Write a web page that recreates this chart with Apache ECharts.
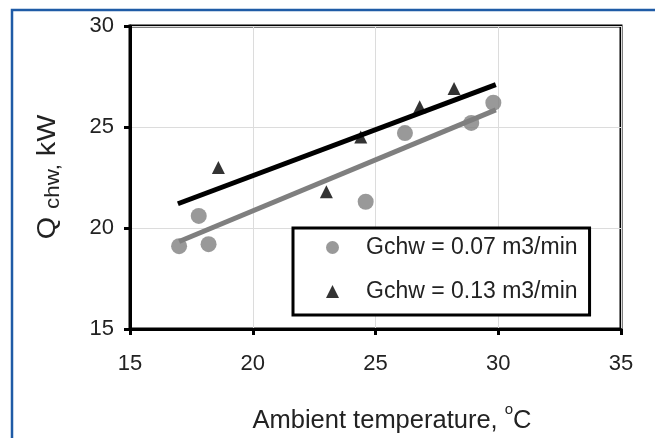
<!DOCTYPE html>
<html>
<head>
<meta charset="utf-8">
<script src="https://cdn.jsdelivr.net/npm/echarts@6/dist/echarts.min.js"></script>
<style>
html,body{margin:0;padding:0;background:#fff;}
#chart{width:655px;height:438px;}
</style>
</head>
<body>
<div id="chart"></div>
<script>
// Data
var xTicks = [15, 20, 25, 30, 35];
var yTicks = [15, 20, 25, 30];
var seriesNames = ['Gchw = 0.07 m3/min', 'Gchw = 0.13 m3/min'];
var lowFlow = [[17.0, 19.1], [17.8, 20.6], [18.2, 19.2], [24.6, 21.3], [26.2, 24.7], [28.9, 25.2], [29.8, 26.2]];
var highFlow = [[18.6, 23.0], [23.0, 21.8], [24.4, 24.5], [26.8, 26.0], [28.2, 26.9]];
var lowFlowTrend = [[17.0, 19.33], [29.9, 25.85]];
var highFlowTrend = [[16.95, 21.2], [29.9, 27.1]];

var FONT = '"Liberation Sans", Arial, sans-serif';
var chart = echarts.init(document.getElementById('chart'), null, {renderer: 'canvas'});
chart.setOption({
  animation: false,
  backgroundColor: '#fff',
  textStyle: {fontFamily: FONT},
  grid: {left: 130, right: 34, top: 26, bottom: 109, show: true, borderColor: '#000', borderWidth: 3},
  xAxis: {
    type: 'value', min: xTicks[0], max: xTicks[xTicks.length - 1], interval: 5,
    axisLine: {lineStyle: {color: '#000', width: 3}},
    axisTick: {show: true, length: 6, lineStyle: {color: '#000', width: 3}},
    axisLabel: {color: '#222', fontSize: 22, margin: 24, fontFamily: FONT},
    splitLine: {show: true, lineStyle: {color: '#dcdcdc', width: 1}}
  },
  yAxis: {
    type: 'value', min: yTicks[0], max: yTicks[yTicks.length - 1], interval: 5,
    axisLine: {lineStyle: {color: '#000', width: 3}},
    axisTick: {show: true, length: 6, lineStyle: {color: '#000', width: 3}},
    axisLabel: {color: '#222', fontSize: 22, margin: 16, fontFamily: FONT},
    splitLine: {show: true, lineStyle: {color: '#dcdcdc', width: 1}}
  },
  legend: {
    data: seriesNames,
    orient: 'vertical', left: 293, top: 228,
    padding: [8, 12, 12, 33],
    itemWidth: 13, itemHeight: 13, itemGap: 21,
    symbolKeepAspect: true,
    backgroundColor: '#fff', borderColor: '#000', borderWidth: 3,
    textStyle: {fontSize: 23, color: '#222', fontFamily: FONT, padding: [0, 0, 0, 22]},
    z: 10
  },
  series: [
    {name: 'trendHigh', type: 'line', data: highFlowTrend, showSymbol: false, symbol: 'none',
     lineStyle: {color: '#000', width: 5}, z: 2},
    {name: 'trendLow', type: 'line', data: lowFlowTrend, showSymbol: false, symbol: 'none',
     lineStyle: {color: '#7f7f7f', width: 5}, z: 2},
    {name: seriesNames[0], type: 'scatter', data: lowFlow, symbol: 'circle', symbolSize: 16,
     itemStyle: {color: '#808080'}, z: 3},
    {name: seriesNames[1], type: 'scatter', data: highFlow, symbol: 'triangle', symbolSize: 13,
     itemStyle: {color: '#000'}, z: 3}
  ],
  graphic: [
    {type: 'rect', shape: {x: 12, y: 10, width: 800, height: 600}, style: {fill: 'none', stroke: '#1f5ba6', lineWidth: 2.5}, z: 100, silent: true},
    {type: 'text', x: 392, y: 418, z: 100,
     style: {text: '{a|Ambient temperature, }{s|o}{a|C}', align: 'center', verticalAlign: 'middle',
       rich: {a: {fontSize: 25.5, fontFamily: FONT, fill: '#222', lineHeight: 32, verticalAlign: 'bottom'},
              s: {fontSize: 15, fontFamily: FONT, fill: '#222', lineHeight: 6, verticalAlign: 'top'}}}},
    {type: 'text', x: 48, y: 177, rotation: Math.PI / 2, scaleX: 1.15, z: 100,
     style: {text: '{a|Q }{s|chw,}{a| kW}', align: 'center', verticalAlign: 'middle',
       rich: {a: {fontSize: 25, fontFamily: FONT, fill: '#222', lineHeight: 32, verticalAlign: 'middle'},
              s: {fontSize: 19.5, fontFamily: FONT, fill: '#222', lineHeight: 19, verticalAlign: 'bottom'}}}}
  ]
});
</script>
</body>
</html>
